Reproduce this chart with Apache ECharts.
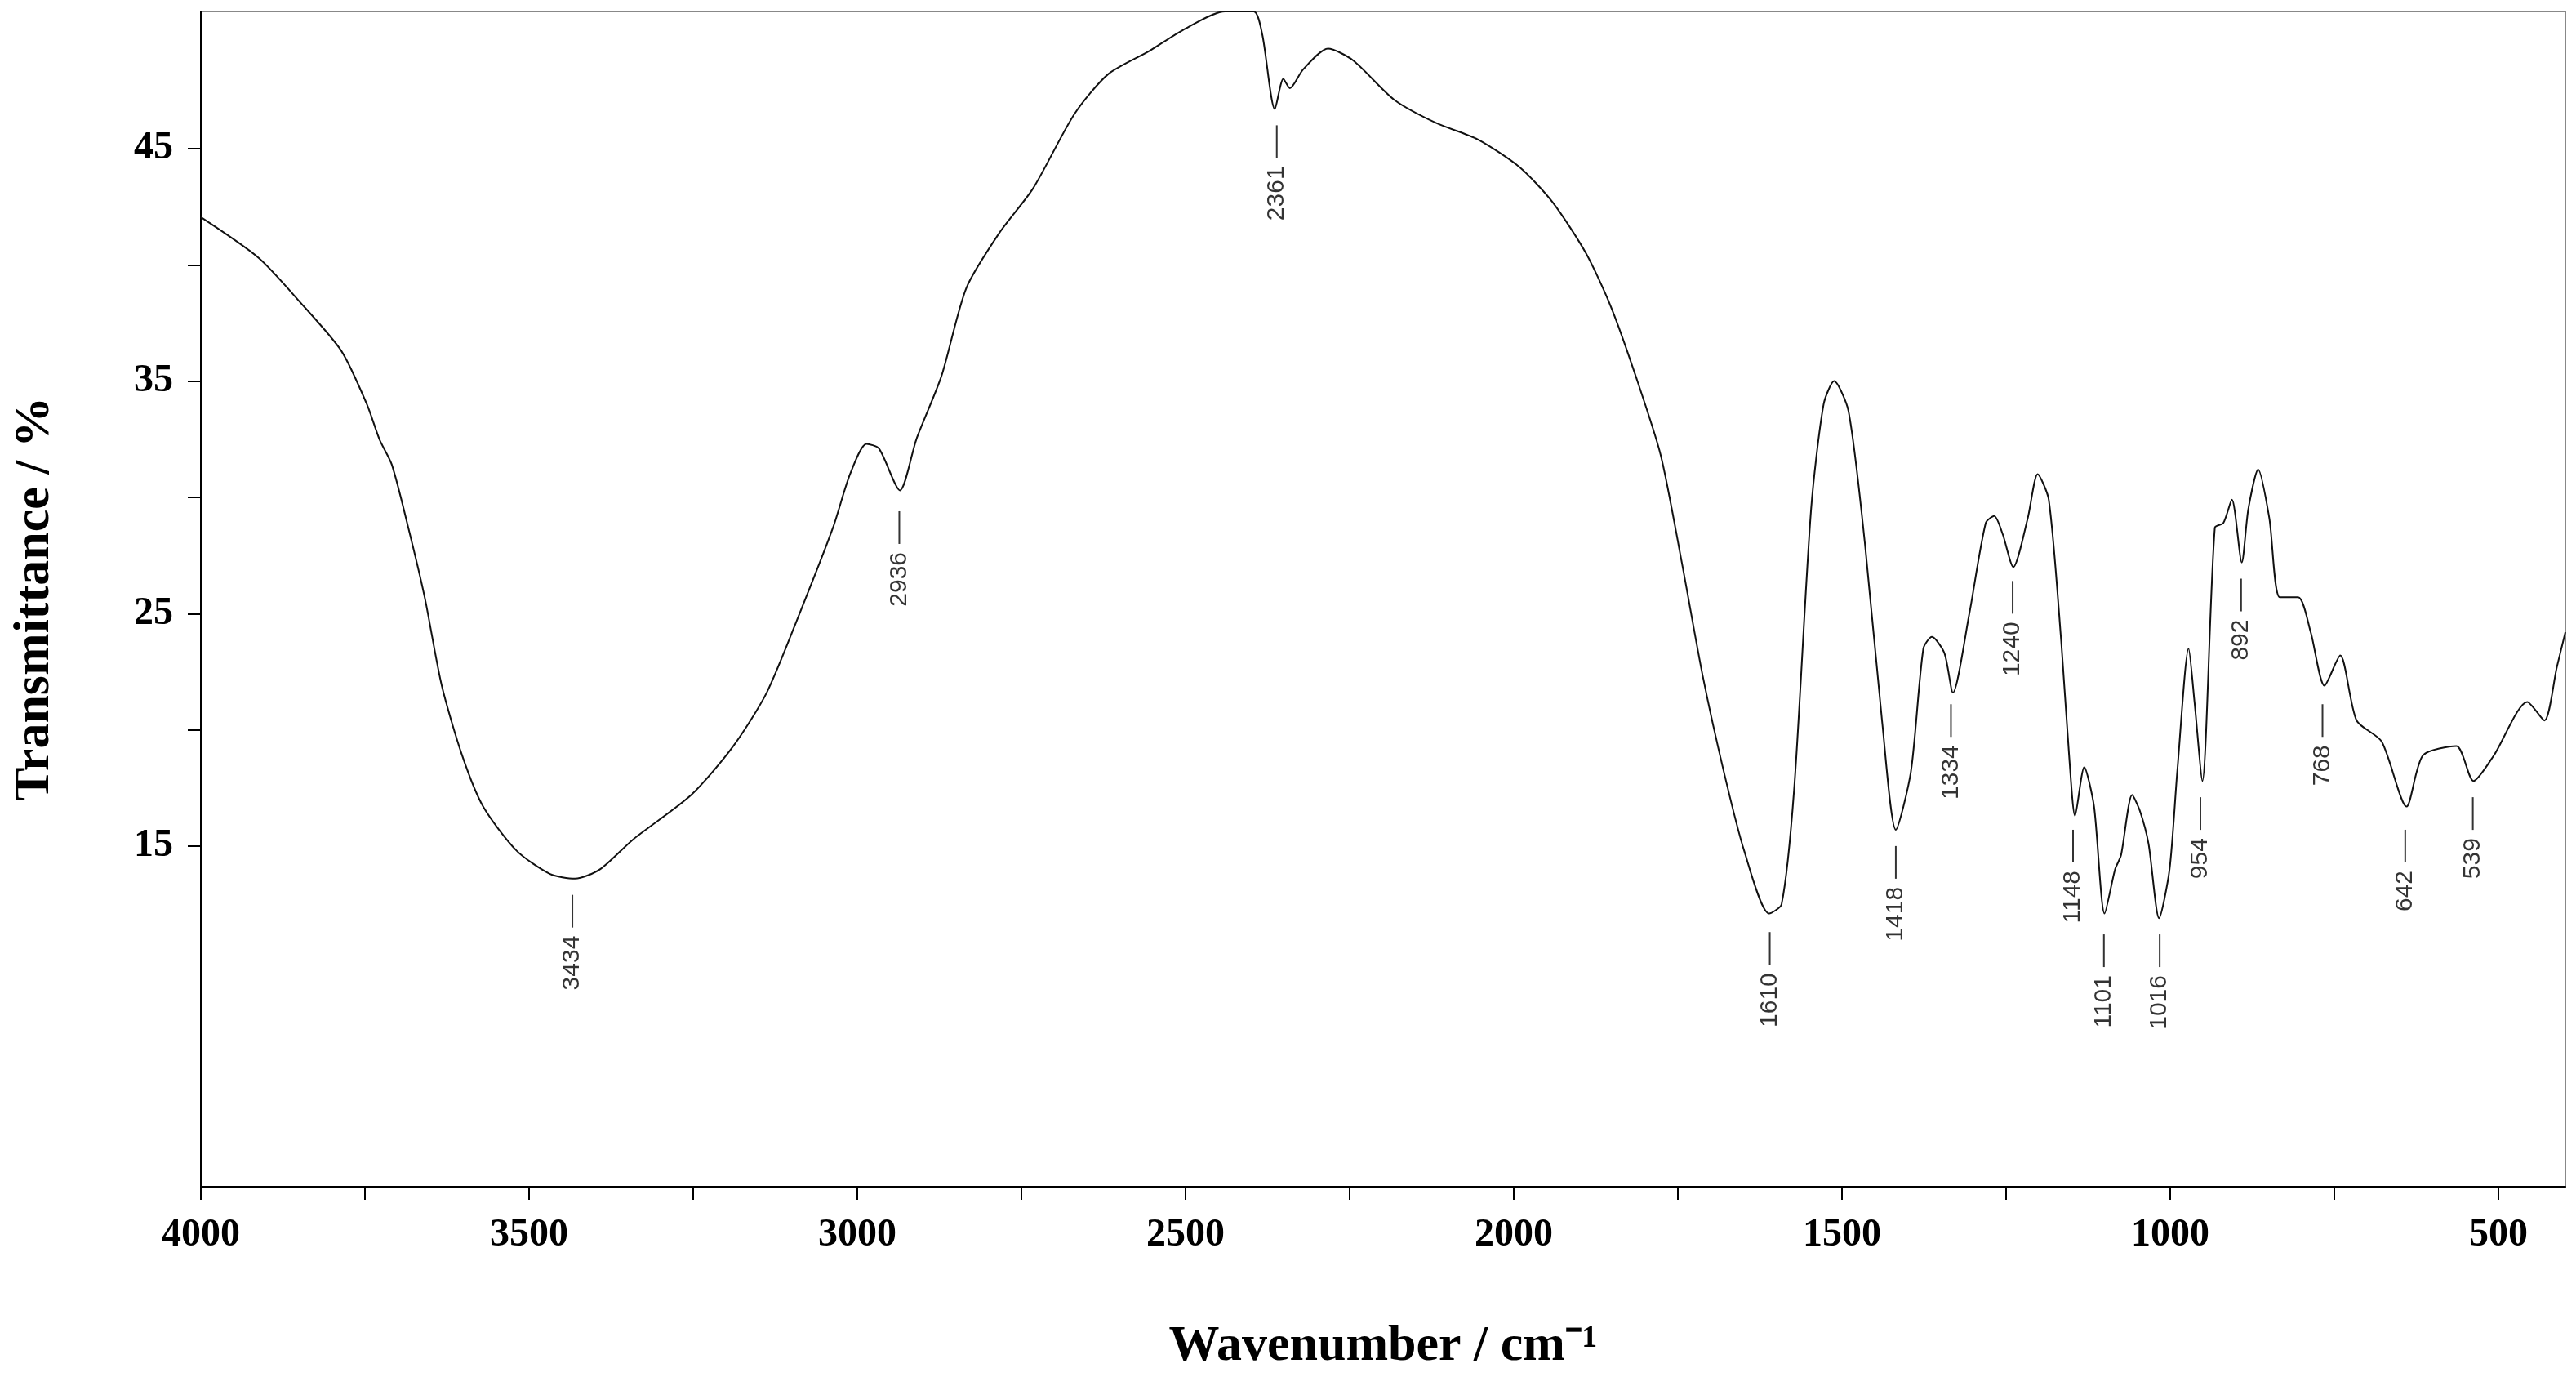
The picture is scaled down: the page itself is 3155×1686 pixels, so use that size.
<!DOCTYPE html>
<html>
<head>
<meta charset="utf-8">
<script src="https://cdn.jsdelivr.net/npm/echarts@6/dist/echarts.min.js"></script>
<style>html,body{margin:0;background:#fff}#chart{width:3155px;height:1686px}</style>
</head>
<body>
<div id="chart"></div>
<script>
// spectrum: wavenumber (cm-1) and transmittance (%)
var wavenumber = [4000,3912,3849,3786,3747,3728,3709,3684,3659,3633,3602,3570,3519,3468,3430,3392,3341,3253,3189,3138,3088,3037,3011,2986,2967,2935,2910,2872,2834,2783,2732,2669,2618,2555,2504,2440,2396,2383,2364,2351,2341,2321,2283,2245,2182,2118,2055,1991,1941,1890,1852,1814,1776,1744,1712,1680,1649,1611,1592,1573,1547,1528,1512,1490,1465,1439,1418,1395,1376,1363,1344,1331,1306,1281,1268,1255,1239,1217,1202,1185,1166,1154,1145,1131,1116,1100,1084,1075,1058,1046,1033,1017,1001,989,972,963,951,932,919,906,891,881,866,849,833,805,786,765,741,716,678,640,615,564,538,507,456,430,411,398];
var transmittance = [42.05,40.3,38.4,36.3,34.0,32.5,31.4,28.7,25.7,21.9,18.9,16.7,14.8,13.8,13.6,14.0,15.3,17.2,19.3,21.6,25.0,28.7,31.0,32.3,32.1,30.3,32.5,35.2,39.0,41.4,43.3,46.5,48.2,49.2,50.1,50.9,50.9,49.9,46.7,48.0,47.6,48.4,49.3,48.8,47.1,46.1,45.4,44.2,42.7,40.5,38.2,35.2,31.8,27.2,22.3,18.2,14.8,12.1,12.5,17.4,29.5,34.0,35.0,33.7,28.0,20.4,15.7,18.2,23.5,24.0,23.3,21.6,25.0,28.9,29.2,28.4,27.0,29.1,31.0,29.9,23.8,18.9,16.3,18.4,16.7,12.1,14.0,14.6,17.2,16.5,15.1,11.9,14.0,18.3,23.5,21.2,17.8,28.7,28.9,29.9,27.2,29.5,31.2,29.1,25.7,25.7,24.2,21.9,23.2,20.4,19.5,16.7,18.9,19.3,17.8,18.9,21.2,20.4,22.7,24.2];

// peak annotations: wavenumber and height of the marker tick
var peakWn = [3434,2936,2361,1610,1418,1334,1240,1148,1101,1016,954,892,768,642,539];
var peakY = [12.2,28.7,45.3,10.6,14.3,20.4,25.7,15.0,10.5,10.5,16.4,25.8,20.4,15.0,16.4];

var xTicks = [];
for (var v = 500; v <= 4000; v += 250) xTicks.push(v);
var xLabels = [500,1000,1500,2000,2500,3000,3500,4000];
var yTicks = [15,20,25,30,35,40,45];
var yLabels = [15,25,35,45];

var chart = echarts.init(document.getElementById('chart'));
var axisFont = {fontFamily: 'Liberation Serif', fontWeight: 'bold', fontSize: 48, color: '#000',
    formatter: function (v) { return String(v); }};
var nameFont = {fontFamily: 'Liberation Serif', fontWeight: 'bold', fontSize: 62, color: '#000'};
chart.setOption({
    animation: false,
    grid: {left: 246, right: 13, top: 14, bottom: 233, show: true, borderColor: '#888', borderWidth: 2},
    xAxis: {
        type: 'value', inverse: true, min: 398, max: 4000,
        name: 'Wavenumber / cm\u207B\u00B9', nameLocation: 'middle', nameGap: 165,
        nameTextStyle: nameFont,
        axisLine: {onZero: false, lineStyle: {color: '#000', width: 2}},
        axisTick: {customValues: xTicks, length: 16, lineStyle: {color: '#000', width: 2}},
        axisLabel: Object.assign({customValues: xLabels, margin: 36}, axisFont),
        splitLine: {show: false}
    },
    yAxis: {
        type: 'value', min: 0.35, max: 50.9,
        name: 'Transmittance / %', nameLocation: 'middle', nameGap: 172, nameRotate: 90,
        nameTextStyle: nameFont,
        axisLine: {onZero: false, lineStyle: {color: '#000', width: 2}},
        axisTick: {customValues: yTicks, length: 16, lineStyle: {color: '#000', width: 2}},
        axisLabel: Object.assign({customValues: yLabels, margin: 34}, axisFont),
        splitLine: {show: false}
    },
    series: [{
        type: 'line',
        data: wavenumber.map(function (w, i) { return [w, transmittance[i]]; }),
        showSymbol: false,
        smooth: 0.25,
        lineStyle: {color: '#111', width: 2}
    }, {
        type: 'scatter',
        data: peakWn.map(function (w, i) { return [w, peakY[i]]; }),
        symbol: 'rect',
        symbolSize: [2, 40],
        itemStyle: {color: '#000'},
        label: {
            show: true, position: 'bottom', distance: 10, rotate: 90,
            align: 'right', verticalAlign: 'middle',
            formatter: function (p) { return String(p.value[0]); },
            fontFamily: 'Liberation Sans', fontSize: 30, color: '#000'
        }
    }]
});
</script>
</body>
</html>
